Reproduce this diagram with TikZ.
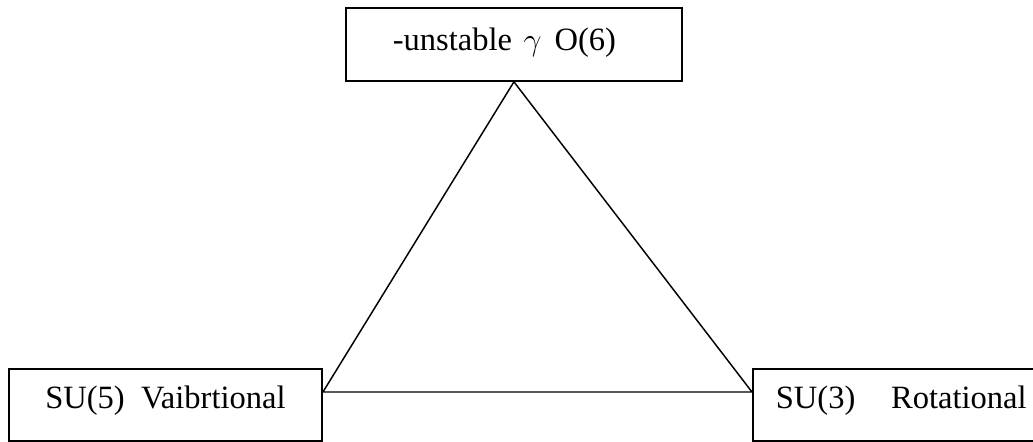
\documentclass[tikz,border=0pt]{standalone}
\usepackage{fontspec}
\setmainfont{Liberation Serif}
\usetikzlibrary{positioning,calc}
\tikzset{STATE/.style={rectangle,draw,line width=0.7pt,inner ysep=0pt,anchor=north west,font=\fontsize{12.2}{14.6}\selectfont}}
\tikzset{LINE/.style={line width=0.55pt}}

\begin{document}
\begin{tikzpicture}[x=0.375pt,y=-0.375pt]
\useasboundingbox (0,0) rectangle (1033,441);
\clip (0,0) rectangle (1033,441);

\node[STATE, inner xsep=17.6pt, text width=90.8pt, align=left, text height=16.1pt, text depth=11.25pt] (n_top) at (345,7) {-unstable\hspace{0.35em}$\gamma$\hspace{0.4em}O(6)};
\node[STATE, inner xsep=5pt, text width=107.4pt, align=center, text height=15pt, text depth=12pt] (n_left) at (8,368) {SU(5)\hspace{0.5em}Vaibrtional};
\node[STATE, inner xsep=8.6pt, text width=100pt, align=left, text height=15pt, text depth=12pt] (n_right) at (752,368) {SU(3)\hspace{1.1em}Rotational};

\coordinate (c_left) at ($(n_left.north east)+(0,24)$);
\coordinate (c_right) at ($(n_right.north west)+(0,24)$);
\draw[LINE] (n_top.south) -- (c_left) -- (c_right) -- cycle;

\end{tikzpicture}
\end{document}
